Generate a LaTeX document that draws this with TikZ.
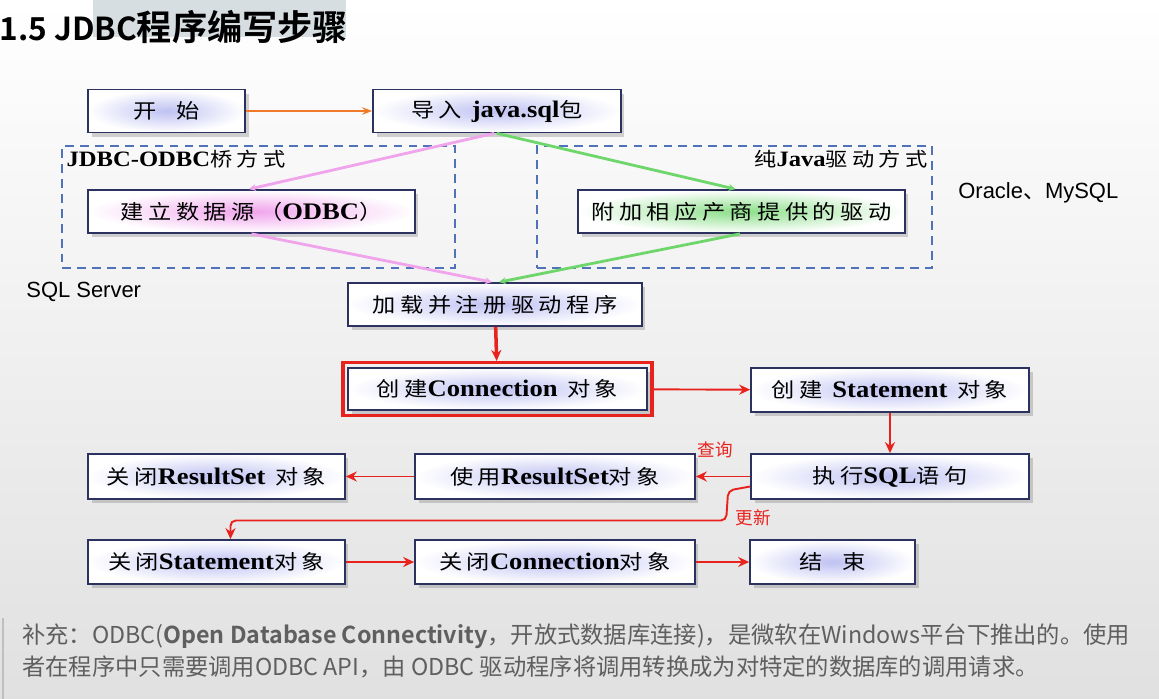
\documentclass[tikz,border=0pt]{standalone}
\usepackage{fontspec}
\setmainfont{Liberation Serif}
\setsansfont{Liberation Sans}
\newfontfamily\cjk[FakeStretch=1.15,LetterSpace=22]{Noto Sans CJK SC}
\newfontfamily\cjkplain{Noto Sans CJK SC}
\newfontfamily\cjkbold{Noto Sans CJK SC Bold}
\newfontfamily\latserif[FakeStretch=1.12]{Liberation Serif}
\usetikzlibrary{arrows.meta,positioning,shadows,fit}
\definecolor{jdnavy}{HTML}{2B3260}
\definecolor{jdglow}{HTML}{BFC1F2}
\definecolor{jdpink}{HTML}{F0A4EC}
\definecolor{jdgreen}{HTML}{6ED66B}
\definecolor{jdorange}{HTML}{F07A2A}
\definecolor{jdred}{HTML}{E8231E}
\definecolor{jddash}{HTML}{4F72B8}
\definecolor{jdnote}{HTML}{5F5F5F}
\definecolor{jdmark}{HTML}{D7DEE2}
\newcommand\jv[2][13.5]{{\latserif\bfseries\fontsize{#1}{#1}\selectfont #2}}
\tikzset{
  box/.style={draw=jdnavy, line width=1pt, inner color=jdglow, outer color=white,
              minimum height=0.86cm, inner sep=2pt,
              font=\cjk\fontsize{11.5}{13}\selectfont,
              drop shadow={shadow xshift=2pt, shadow yshift=-2.5pt, opacity=0.35}},
  pinkbox/.style={box, inner color=jdpink},
  greenbox/.style={box, inner color=jdgreen!80},
  grpbox/.style={draw=jddash, line width=1.2pt, dash pattern=on 5pt off 3.5pt,
                 inner sep=0pt},
  grplabel/.style={font=\cjk\fontsize{11}{13}\selectfont, inner sep=3pt},
  arr/.style={-{Stealth[length=2.2mm, width=2mm]}, line width=1.1pt, draw=jdred},
  glowline/.style={line width=1.6pt, -{Stealth[length=1.4mm, width=1.4mm]}},
  side/.style={font=\sffamily\fontsize{12.5}{14}\selectfont, inner sep=0pt},
  redlabel/.style={font=\cjkplain\fontsize{10}{12}\selectfont, text=jdred, inner sep=0pt},
  note/.style={font=\cjkplain\fontsize{13.25}{16}\selectfont, text=jdnote, inner sep=0pt},
}
\begin{document}
\begin{tikzpicture}[x=0.02cm, y=-0.02cm]
  \useasboundingbox (0,0) rectangle (1159,699);
  \shade[top color=white, middle color=white, bottom color=black!12] (0,0) rectangle (1159,699);
  % heading
  \fill[jdmark] (93,0) rectangle (346,37);
  \node[anchor=west, inner sep=0pt, font=\cjkbold\fontsize{20}{22}\selectfont] (title) at (-1,27) {{\fontsize{18}{20}\selectfont 1.5 JDBC}程序编写步骤};

  % two ways to get a driver
  \node[grpbox, minimum width=7.86cm, minimum height=2.44cm] (bridge) at (258.5,207) {};
  \node[grpbox, minimum width=7.90cm, minimum height=2.44cm] (pure)   at (734.5,207) {};
  \node[grplabel, anchor=north west] (bridgelbl) at (bridge.north west) {\jv[12.5]{JDBC-ODBC}桥方式};
  \node[grplabel, anchor=north east] (purelbl)   at (pure.north east)   {纯\jv[12.5]{Java}驱动方式};

  \node[box, minimum width=3.14cm]        (start) at (166.5,111) {开\quad 始};
  \node[box, minimum width=4.96cm]        (imp)   at (497,111)   {导入 \jv{java.sql}包};
  \node[pinkbox, minimum width=6.54cm]    (odbc)  at (251.5,211.5) {建立数据源（\jv{ODBC}）};
  \node[greenbox, minimum width=6.54cm]   (vend)  at (741.5,211.5) {附加相应产商提供的驱动};
  \node[box, minimum width=5.88cm]        (load)  at (495,304.5) {加载并注册驱动程序};
  \node[box, minimum width=5.98cm, minimum height=0.84cm] (conn) at (497.5,389) {创建\jv{Connection} 对象};
  \node[draw=jdred, line width=2pt, inner sep=2.5pt, fit=(conn)] (connframe) {};
  \node[box, minimum width=5.56cm, minimum height=0.88cm] (stmt) at (890,390) {创建 \jv{Statement} 对象};
  \node[box, minimum width=5.56cm, minimum height=0.9cm]  (exec) at (890,476.5) {执行\jv{SQL}语句};
  \node[box, minimum width=5.60cm, minimum height=0.9cm]  (users) at (555,476.5) {使用\jv{ResultSet}对象};
  \node[box, minimum width=5.14cm, minimum height=0.9cm]  (closers) at (216.5,476.5) {关闭\jv{ResultSet} 对象};
  \node[box, minimum width=5.14cm, minimum height=0.88cm] (closest) at (216.5,562) {关闭\jv{Statement}对象};
  \node[box, minimum width=5.60cm, minimum height=0.88cm] (closeconn) at (555,562) {关闭\jv{Connection}对象};
  \node[box, minimum width=3.30cm, minimum height=0.88cm] (finish) at (832.5,562) {结\quad 束};

  \node[side, anchor=west] (sqlsrv) at (26,292) {SQL Server};
  \node[side, anchor=west] (oracle) at (958,193) {Oracle{\cjkplain 、}MySQL};

  % connectors
  \draw[-{Stealth[length=2mm]}, line width=1.2pt, draw=jdorange] (start) -- (imp);
  \draw[glowline, draw=jdpink]  ([xshift=-0.06cm]imp.south) -- ([xshift=-0.05cm]odbc.north);
  \draw[glowline, draw=jdpink]  (odbc.south) -- ([xshift=-0.06cm]load.north);
  \draw[glowline, draw=jdgreen] (imp.south) -- ([xshift=-0.12cm]vend.north);
  \draw[glowline, draw=jdgreen] ([xshift=-0.03cm]vend.south) -- ([xshift=0.08cm]load.north);
  \draw[arr, line width=2pt] (load) -- (connframe);
  \draw[arr] (connframe) -- (stmt);
  \draw[arr] (stmt) -- (exec);
  \draw[arr] (exec) -- (users);
  \draw[arr] (users) -- (closers);
  \draw[arr, rounded corners=3pt] ([yshift=-0.2cm]exec.west) -- ++(-22,4) -- ++(-2,30) -| ([xshift=0.28cm]closest.north);
  \draw[arr] (closest) -- (closeconn);
  \draw[arr] (closeconn) -- (finish);
  \node[redlabel] (query)  at (715,450) {查询};
  \node[redlabel] (update) at (753,518) {更新};

  % remark under the chart
  \draw[black!25, line width=1.5pt] (3,618) -- (3,699);
  \node[note, anchor=west] (note1) at (22,636) {补充：ODBC({\cjkbold Open Database Connectivity}，开放式数据库连接)，是微软在Windows平台下推出的。使用};
  \node[note, anchor=west] (note2) at (22,667) {者在程序中只需要调用ODBC API，由 ODBC 驱动程序将调用转换成为对特定的数据库的调用请求。};
\end{tikzpicture}
\end{document}
